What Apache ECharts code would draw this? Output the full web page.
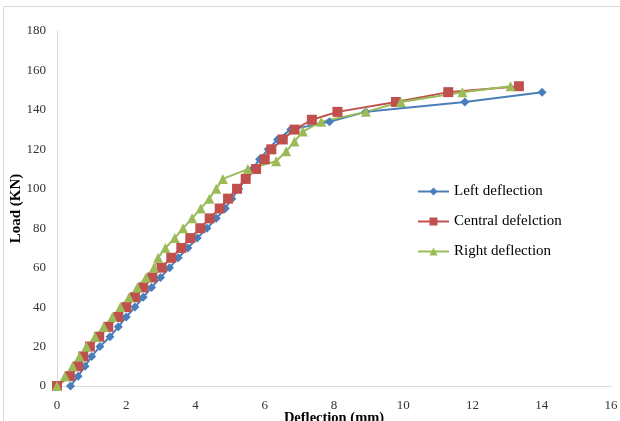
<!DOCTYPE html>
<html>
<head>
<meta charset="utf-8">
<script src="https://cdn.jsdelivr.net/npm/echarts@6/dist/echarts.min.js"></script>
<style>
  html, body { margin: 0; padding: 0; background: #fff; }
  #chart { width: 620px; height: 421px; }
</style>
</head>
<body>
<div id="chart"></div>
<script>
// deflection (mm) / load (kN) pairs
const leftDeflection = [0.39, 0.61, 0.81, 1.0, 1.24, 1.53, 1.77, 2.0, 2.25, 2.49, 2.73, 2.99, 3.25, 3.5, 3.78, 4.05, 4.33, 4.6, 4.86, 5.05, 5.25, 5.45, 5.65, 5.85, 6.1, 6.37, 6.75, 7.87, 8.92, 11.78, 14.01];
const leftLoad = [0, 5, 10, 15, 20, 25, 30, 35, 40, 45, 50, 55, 60, 65, 70, 75, 80, 85, 90, 95, 100, 105, 110, 115, 120, 125, 130, 134, 139, 144, 149];

const centralDeflection = [0, 0.37, 0.61, 0.76, 0.95, 1.22, 1.48, 1.77, 2.0, 2.25, 2.49, 2.75, 3.02, 3.3, 3.59, 3.85, 4.14, 4.41, 4.7, 4.94, 5.2, 5.45, 5.75, 6.0, 6.19, 6.52, 6.86, 7.36, 8.1, 9.79, 11.3, 13.34];
const centralLoad = [0, 5, 10, 15, 20, 25, 30, 35, 40, 45, 50, 55, 60, 65, 70, 75, 80, 85, 90, 95, 100, 105, 110, 115, 120, 125, 130, 135, 139, 144, 149, 152];

const rightDeflection = [0, 0.23, 0.45, 0.65, 0.85, 1.1, 1.35, 1.6, 1.83, 2.08, 2.32, 2.57, 2.8, 2.92, 3.13, 3.4, 3.64, 3.9, 4.15, 4.4, 4.6, 4.79, 5.51, 6.33, 6.62, 6.86, 7.1, 7.63, 8.92, 9.93, 11.71, 13.1];
const rightLoad = [0, 5, 10, 15, 20, 25, 30, 35, 40, 45, 50, 55, 60, 65, 70, 75, 80, 85, 90, 95, 100, 105, 110, 114, 119, 124, 129, 134, 139, 144, 149, 152];

const seriesNames = ['Left deflection', 'Central defelction', 'Right deflection'];
const xTicks = [0, 16, 2];   // min, max, interval
const yTicks = [0, 180, 20];

const serif = '"Liberation Serif", "Times New Roman", serif';

function pairs(xs, ys) {
  return xs.map((x, i) => [x, ys[i]]);
}

const chart = echarts.init(document.getElementById('chart'));

const option = {
  animation: false,
  textStyle: { fontFamily: serif },
  grid: { left: 57, right: 9, top: 31, bottom: 35, outerBoundsMode: 'none', containLabel: false },
  graphic: [{
    type: 'rect',
    shape: { x: 3.5, y: 6.5, width: 640, height: 440 },
    style: { fill: 'none', stroke: '#d9d9d9', lineWidth: 1 },
    silent: true
  }],
  legend: {
    orient: 'vertical',
    left: 412,
    top: 179,
    itemGap: 15,
    itemWidth: 31,
    itemHeight: 10,
    textStyle: { fontFamily: serif, fontSize: 15, color: '#000' },
    data: seriesNames
  },
  xAxis: {
    type: 'value',
    min: xTicks[0], max: xTicks[1], interval: xTicks[2],
    name: 'Deflection (mm)',
    nameLocation: 'middle',
    nameGap: 25,
    nameMoveOverlap: false,
    nameTextStyle: { fontFamily: serif, fontSize: 14.5, fontWeight: 'bold', color: '#000' },
    axisLine: { show: true, lineStyle: { color: '#d9d9d9', width: 1 } },
    axisTick: { show: false },
    splitLine: { show: false },
    axisLabel: { fontFamily: serif, fontSize: 13, color: '#333', margin: 13 }
  },
  yAxis: {
    type: 'value',
    min: yTicks[0], max: yTicks[1], interval: yTicks[2],
    name: 'Load (KN)',
    nameLocation: 'middle',
    nameGap: 33,
    nameMoveOverlap: false,
    nameTextStyle: { fontFamily: serif, fontSize: 15, fontWeight: 'bold', color: '#000' },
    axisLine: { show: true, lineStyle: { color: '#d9d9d9', width: 1 } },
    axisTick: { show: false },
    splitLine: { show: false },
    axisLabel: { fontFamily: serif, fontSize: 13, color: '#333', margin: 11 }
  },
  series: [
    {
      name: seriesNames[0],
      type: 'line',
      data: pairs(leftDeflection, leftLoad),
      symbol: 'diamond',
      symbolSize: 9,
      itemStyle: { color: '#4a7ebb' },
      lineStyle: { color: '#4a7ebb', width: 2 }
    },
    {
      name: seriesNames[1],
      type: 'line',
      data: pairs(centralDeflection, centralLoad),
      symbol: 'rect',
      symbolSize: 10,
      itemStyle: { color: '#c0504d' },
      lineStyle: { color: '#c0504d', width: 2 }
    },
    {
      name: seriesNames[2],
      type: 'line',
      data: pairs(rightDeflection, rightLoad),
      symbol: 'triangle',
      symbolSize: 10,
      itemStyle: { color: '#9bbb59' },
      lineStyle: { color: '#9bbb59', width: 2 }
    }
  ]
};

chart.setOption(option);
</script>
</body>
</html>
